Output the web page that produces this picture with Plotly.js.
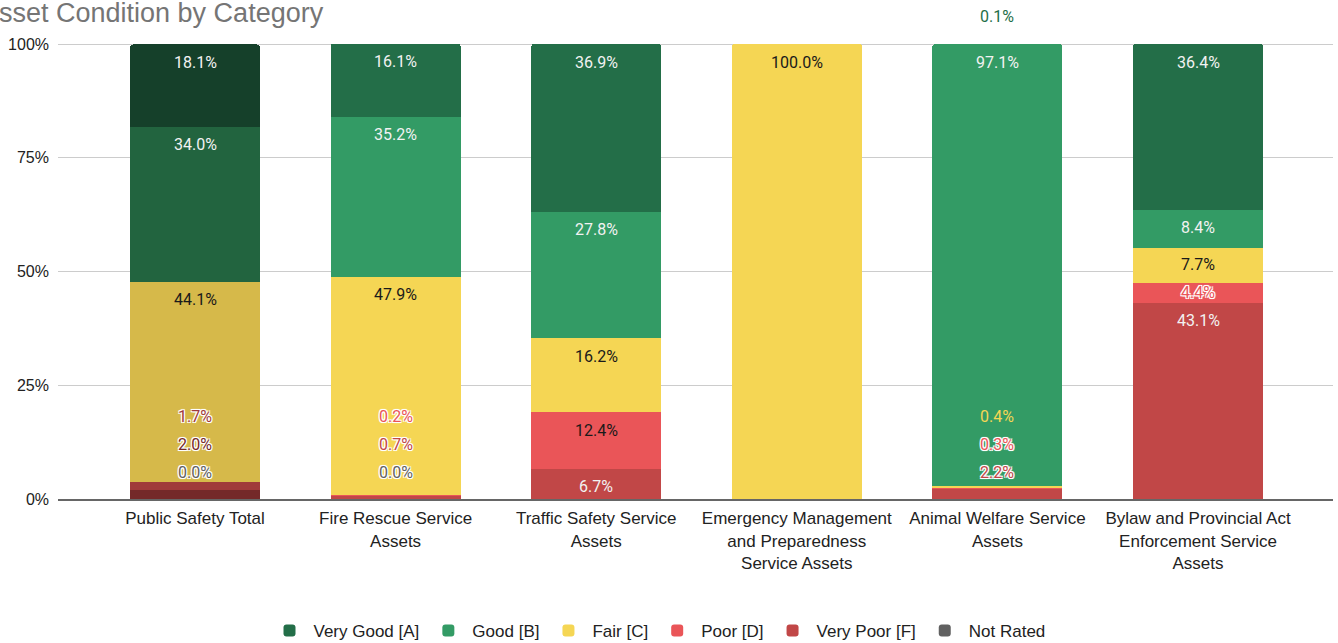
<!DOCTYPE html>
<html><head><meta charset="utf-8">
<script src="https://cdn.plot.ly/plotly-3.0.1.min.js"></script>
<style>html,body{margin:0;padding:0;background:#fff}#chart{width:1338px;height:643px}</style>
</head><body><div id="chart"></div>
<script>
// ---- data ----
const categories = ["Public Safety Total", "Fire Rescue Service<br>Assets", "Traffic Safety Service<br>Assets",
  "Emergency Management<br>and Preparedness<br>Service Assets", "Animal Welfare Service<br>Assets",
  "Bylaw and Provincial Act<br>Enforcement Service<br>Assets"];
const seriesNames = ["Very Good [A]", "Good [B]", "Fair [C]", "Poor [D]", "Very Poor [F]", "Not Rated"];
const veryGood = [18.1, 16.1, 36.9, null, 0.1, 36.4];
const good     = [34.0, 35.2, 27.8, null, 97.1, 8.4];
const fair     = [44.1, 47.9, 16.2, 100.0, 0.4, 7.7];
const poor     = [1.7, 0.2, 12.4, null, 0.3, 4.4];
const veryPoor = [2.0, 0.7, 6.7, null, 2.2, 43.1];
const notRated = [0.0, 0.0, null, null, null, null];
const yTicks = [0, 25, 50, 75, 100];
const seriesValues = [veryGood, good, fair, poor, veryPoor, notRated];

// ---- style ----
const colors      = ['#236e48', '#339b65', '#f5d654', '#ea5558', '#c14747', '#616161'];
const totalColors = ['#15402a', '#22643f', '#d6b94a', '#a03a3a', '#742929', '#616161'];
const insideText  = ['#f2f2f2', '#f2f2f2', '#1a1a1a', '#1a1a1a', '#f2f2f2', '#f2f2f2'];
const haloFlag    = [true, true, false, true, true, true];
const W = 1338, H = 643, ML = 58, MR = 5, MT = 10, MB = 144;
const plotH = H - MT - MB;
const pxPerUnit = 4.55;
const yMax = plotH / pxPerUnit;
const stackOrder = [5, 4, 3, 2, 1, 0];
const halo = '-1px -1px 0 #fff, 1px -1px 0 #fff, -1px 1px 0 #fff, 1px 1px 0 #fff, 0 0 2px #fff, 0 0 2px #fff';

const traces = [];
stackOrder.forEach(s => {
  traces.push({
    type: 'bar', name: seriesNames[s], x: categories.slice(1), y: seriesValues[s].slice(1),
    marker: {color: colors[s], line: {width: 0}}, hoverinfo: 'skip', showlegend: true
  });
});
stackOrder.forEach(s => {
  traces.push({
    type: 'bar', name: seriesNames[s], x: [categories[0]], y: [seriesValues[s][0]],
    marker: {color: totalColors[s], line: {width: 0}}, hoverinfo: 'skip', showlegend: false
  });
});

const pix = v => plotH - v * pxPerUnit;
const annotations = [];
categories.forEach((cat, c) => {
  let topmost = -1;
  stackOrder.forEach(s => { if (seriesValues[s][c] !== null) topmost = s; });
  let cum = 0, prev = Infinity;
  stackOrder.forEach(s => {
    const v = seriesValues[s][c];
    if (v === null) return;
    cum += v;
    const topPx = pix(cum);
    const fits = v * pxPerUnit >= 22;
    const desired = topPx + 18;
    let center, outside = false;
    if (!fits && s === topmost) { center = topPx - 27; outside = true; }
    else if (fits) center = Math.min(desired, prev - 28);
    else center = Math.min(desired, pix(0) - 27, prev - 28);
    prev = center;
    const col = fits ? insideText[s] : (c === 0 ? totalColors[s] : colors[s]);
    const font = {family: 'Roboto, sans-serif', size: 16, color: col};
    if (!fits && !outside && haloFlag[s]) font.shadow = halo;
    annotations.push({
      x: cat, xref: 'x', y: (plotH - center) / pxPerUnit, yref: 'y',
      text: v.toFixed(1) + '%', showarrow: false, xanchor: 'center', yanchor: 'middle', font: font
    });
  });
});
annotations.push({
  text: 'Asset Condition by Category', xref: 'paper', yref: 'paper',
  x: (-21 - ML) / (W - ML - MR), y: 1 - (13 - MT) / plotH, xanchor: 'left', yanchor: 'middle',
  showarrow: false, font: {family: 'Liberation Sans, Arial, sans-serif', size: 27, color: '#757575'}
});

const layout = {
  width: W, height: H, margin: {l: ML, r: MR, t: MT, b: MB, autoexpand: false},
  paper_bgcolor: '#fff', plot_bgcolor: '#fff',
  barmode: 'stack', bargap: 0.352, barcornerradius: 3,
  font: {family: 'Liberation Sans, Arial, sans-serif', color: '#222'},
  xaxis: {type: 'category', categoryorder: 'array', categoryarray: categories, automargin: false,
    range: [-0.683, 5.673], showgrid: false, zeroline: false, showline: true,
    linecolor: '#666', linewidth: 2, ticks: '', tickfont: {size: 17, color: '#222'},
    ticklabelstandoff: 3, fixedrange: true},
  yaxis: {range: [0, yMax], tickvals: yTicks, ticktext: yTicks.map(v => v + '%'), automargin: false,
    showgrid: true, gridcolor: '#cccccc', gridwidth: 1, zeroline: false, ticks: '',
    tickfont: {size: 16, color: '#222'}, ticklabelstandoff: 8, fixedrange: true},
  legend: {orientation: 'h', traceorder: 'reversed', xref: 'container', yref: 'container',
    x: 658 / W, xanchor: 'center', y: 1 - 631 / H, yanchor: 'middle',
    itemwidth: 38, font: {size: 17, color: '#222'}},
  showlegend: true,
  annotations: annotations
};
Plotly.newPlot('chart', traces, layout, {displayModeBar: false, staticPlot: true});
</script></body></html>
